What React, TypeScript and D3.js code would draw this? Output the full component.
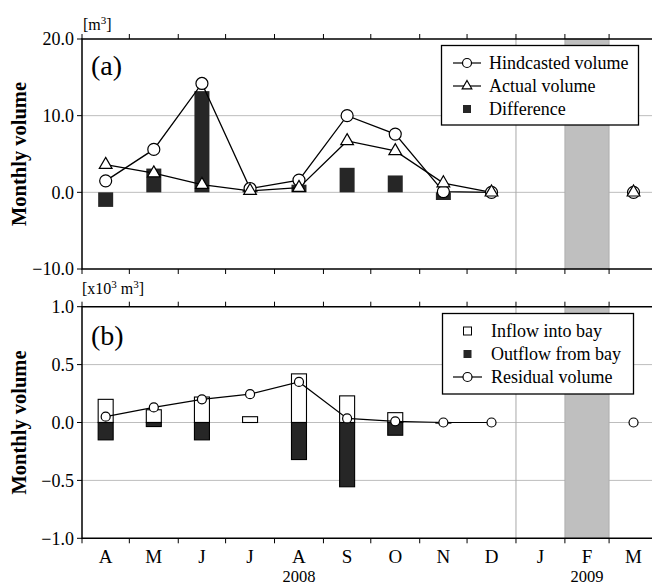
import React from "react";
import * as d3 from "d3";

// months from April 2008 to March 2009
const monthLabels = ["A", "M", "J", "J", "A", "S", "O", "N", "D", "J", "F", "M"];
const yearLabels = [
  { year: "2008", from: 0, to: 9 },
  { year: "2009", from: 9, to: 12 },
];

// panel (a), m^3
const hindcasted = [1.5, 5.6, 14.2, 0.5, 1.6, 10.0, 7.6, 0.1, 0.0, null, null, 0.0];
const actual = [3.6, 2.5, 1.0, 0.2, 0.6, 6.7, 5.4, 1.2, 0.0, null, null, 0.0];
const difference = [-1.9, 3.1, 13.2, 0.3, 1.0, 3.2, 2.2, -1.0, 0.0, null, null, 0.0];

// panel (b), x10^3 m^3
const inflow = [0.2, 0.11, 0.22, 0.05, 0.42, 0.23, 0.085, 0.0, 0.0, null, null, 0.0];
const outflow = [-0.15, -0.035, -0.15, 0.0, -0.32, -0.555, -0.11, -0.005, 0.0, null, null, 0.0];
const residual = [0.05, 0.13, 0.2, 0.245, 0.35, 0.035, 0.01, 0.0, 0.0, null, null, 0.0];

const ticksA = [-10, 0, 10, 20];
const gridA = [0, 10];
const ticksB = [-1, -0.5, 0, 0.5, 1];
const gridB = [-0.5, 0, 0.5];

const FONT = "'Liberation Serif', 'Times New Roman', serif";
const W = 652;
const H = 586;
const left = 82;
const right = 658;
const BAR = "#262626";

const monthStarts = d3.utcMonths(new Date(Date.UTC(2008, 3, 1)), new Date(Date.UTC(2009, 4, 1)));
const x = d3.scaleUtc().domain([monthStarts[0], monthStarts[12]]).range([left, right]);
const mid = (i: number) => (x(monthStarts[i]) + x(monthStarts[i + 1])) / 2;

const yA = d3.scaleLinear().domain([-10, 20]).range([269, 39]);
const yB = d3.scaleLinear().domain([-1, 1]).range([538.3, 306.7]);

const fmt = d3.format(".1f");
const barW = 15;

function Frame({ y, grid }: { y: d3.ScaleLinear<number, number>; grid: number[] }) {
  const [y0, y1] = y.range();
  const janX = x(monthStarts[9]);
  return (
    <g>
      {grid.map((g) => (
        <line key={g} x1={left} x2={right} y1={y(g)} y2={y(g)} stroke="#bdbdbd" strokeWidth={1} />
      ))}
      <rect x={x(monthStarts[10])} y={y1} width={x(monthStarts[11]) - x(monthStarts[10])} height={y0 - y1}
        fill="#bfbfbf" stroke="#a8a8a8" strokeWidth={0.8} />
      <line x1={janX} x2={janX} y1={y1} y2={y0} stroke="#a8a8a8" strokeWidth={1} />
    </g>
  );
}

function Axes({ y, ticks }: { y: d3.ScaleLinear<number, number>; ticks: number[] }) {
  const [y0, y1] = y.range();
  return (
    <g>
      <path d={`M${right},${y1}H${left}V${y0}H${right}`} fill="none" stroke="#000" strokeWidth={1.5} />
      {monthStarts.map((m, i) => (
        <g key={i}>
          <line x1={x(m)} x2={x(m)} y1={y1} y2={y1 - 5} stroke="#000" strokeWidth={1} />
          <line x1={x(m)} x2={x(m)} y1={y0} y2={y0 + 5} stroke="#000" strokeWidth={1} />
        </g>
      ))}
      {ticks.map((t) => (
        <g key={t}>
          <line x1={left - 5} x2={left} y1={y(t)} y2={y(t)} stroke="#000" strokeWidth={1} />
          <text x={left - 8} y={y(t)} dy="0.35em" textAnchor="end" fontSize={18} fontFamily={FONT}>
            {fmt(t)}
          </text>
        </g>
      ))}
    </g>
  );
}

function Circle({ cx, cy, r }: { cx: number; cy: number; r: number }) {
  return <circle cx={cx} cy={cy} r={r} fill="#fff" stroke="#000" strokeWidth={1.2} />;
}

const tri = (size: number) => d3.symbol(d3.symbolTriangle, size)()!;

export default function App() {
  const lineA = d3.line<number | null>().defined((d) => d != null).x((_, i) => mid(i)).y((d) => yA(d as number));
  const lineB = d3.line<number | null>().defined((d) => d != null).x((_, i) => mid(i)).y((d) => yB(d as number));

  return (
    <svg width={W} height={H} style={{ position: "absolute", left: 0, top: 0, background: "#fff" }} fontFamily={FONT}>
      {/* ---------- panel (a) ---------- */}
      <Frame y={yA} grid={gridA} />
      {difference.map((d, i) =>
        d == null ? null : (
          <rect key={i} x={mid(i) - barW / 2} y={yA(Math.max(0, d))} width={barW}
            height={Math.abs(yA(d) - yA(0))} fill={BAR} />
        )
      )}
      <path d={lineA(actual) || ""} fill="none" stroke="#000" strokeWidth={1.3} />
      <path d={lineA(hindcasted) || ""} fill="none" stroke="#000" strokeWidth={1.3} />
      {hindcasted.map((d, i) => (d == null ? null : <Circle key={i} cx={mid(i)} cy={yA(d)} r={6} />))}
      {actual.map((d, i) =>
        d == null ? null : (
          <path key={i} d={tri(70)} transform={`translate(${mid(i)},${yA(d)})`} fill="#fff" stroke="#000" strokeWidth={1.2} />
        )
      )}
      <Axes y={yA} ticks={ticksA} />
      <text x={83} y={30} fontSize={16}>
        [m<tspan dy={-6} fontSize={11}>3</tspan><tspan dy={6}>]</tspan>
      </text>
      <text x={91} y={75} fontSize={28}>(a)</text>
      <text transform={`translate(26,${(39 + 269) / 2}) rotate(-90)`} textAnchor="middle" fontSize={20.5} fontWeight="bold">
        Monthly volume
      </text>
      {/* legend (a) */}
      <g>
        <rect x={441.5} y={45.5} width={197} height={79.5} fill="#fff" stroke="#000" strokeWidth={1.3} />
        <line x1={453} x2={481} y1={63} y2={63} stroke="#000" strokeWidth={1.2} />
        <Circle cx={467} cy={63} r={4.5} />
        <text x={489} y={63} dy="0.35em" fontSize={18}>Hindcasted volume</text>
        <line x1={453} x2={481} y1={86} y2={86} stroke="#000" strokeWidth={1.2} />
        <path d={tri(40)} transform="translate(467,86)" fill="#fff" stroke="#000" strokeWidth={1.2} />
        <text x={489} y={86} dy="0.35em" fontSize={18}>Actual volume</text>
        <rect x={463} y={105} width={8} height={8} fill={BAR} />
        <text x={489} y={109} dy="0.35em" fontSize={18}>Difference</text>
      </g>

      {/* ---------- panel (b) ---------- */}
      <Frame y={yB} grid={gridB} />
      {inflow.map((d, i) =>
        d == null ? null : (
          <rect key={i} x={mid(i) - barW / 2} y={yB(Math.max(0, d))} width={barW}
            height={Math.abs(yB(d) - yB(0))} fill="#fff" stroke="#000" strokeWidth={1.1} />
        )
      )}
      {outflow.map((d, i) =>
        d == null ? null : (
          <rect key={i} x={mid(i) - barW / 2} y={yB(Math.max(0, d))} width={barW}
            height={Math.abs(yB(d) - yB(0))} fill={BAR} stroke="#000" strokeWidth={1.1} />
        )
      )}
      <path d={lineB(residual) || ""} fill="none" stroke="#000" strokeWidth={1.2} />
      {residual.map((d, i) => (d == null ? null : <Circle key={i} cx={mid(i)} cy={yB(d)} r={4.5} />))}
      <Axes y={yB} ticks={ticksB} />
      <text x={82} y={294} fontSize={16}>
        [x10<tspan dy={-6} fontSize={11}>3</tspan><tspan dy={6}> m</tspan><tspan dy={-6} fontSize={11}>3</tspan><tspan dy={6}>]</tspan>
      </text>
      <text x={91} y={345} fontSize={28}>(b)</text>
      <text transform={`translate(26,${(306.7 + 538.3) / 2}) rotate(-90)`} textAnchor="middle" fontSize={20.5} fontWeight="bold">
        Monthly volume
      </text>
      {/* legend (b) */}
      <g>
        <rect x={442.5} y={313.5} width={191} height={80.5} fill="#fff" stroke="#000" strokeWidth={1.3} />
        <rect x={463.5} y={327} width={8} height={8} fill="#fff" stroke="#000" strokeWidth={1} />
        <text x={491} y={331} dy="0.35em" fontSize={18}>Inflow into bay</text>
        <rect x={463.5} y={350} width={8} height={8} fill={BAR} />
        <text x={491} y={354} dy="0.35em" fontSize={18}>Outflow from bay</text>
        <line x1={453} x2={482} y1={377} y2={377} stroke="#000" strokeWidth={1.2} />
        <Circle cx={467.5} cy={377} r={4.5} />
        <text x={491} y={377} dy="0.35em" fontSize={18}>Residual volume</text>
      </g>

      {/* month + year labels */}
      {monthLabels.map((m, i) => (
        <text key={i} x={mid(i)} y={556} dy="0.35em" textAnchor="middle" fontSize={19}>{m}</text>
      ))}
      {yearLabels.map((yl) => (
        <text key={yl.year} x={(x(monthStarts[yl.from]) + x(monthStarts[yl.to])) / 2} y={581.5}
          textAnchor="middle" fontSize={16.5}>
          {yl.year}
        </text>
      ))}
    </svg>
  );
}
